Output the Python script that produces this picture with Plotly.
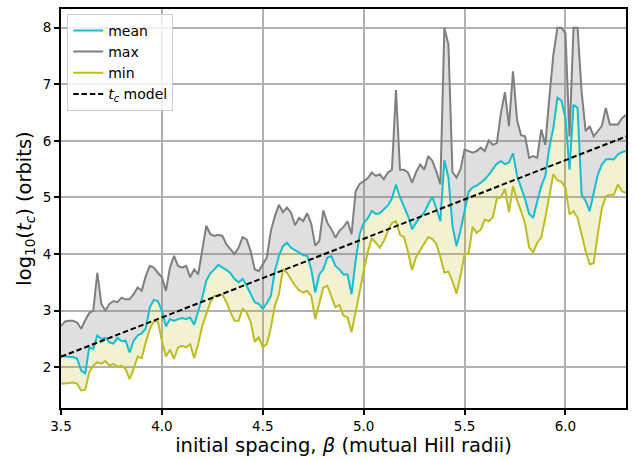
import numpy as np
import plotly.graph_objects as go

# initial spacing grid (mutual Hill radii)
beta = np.round(np.linspace(3.5, 6.3, 141), 2)

# log10 of instability time (orbits) per spacing
tc_mean = [
    2.21, 2.19, 2.18, 2.18, 2.15, 1.94, 1.89, 2.35, 2.32, 2.56,
    2.50, 2.52, 2.44, 2.42, 2.52, 2.46, 2.47, 2.26, 2.47, 2.56,
    2.60, 2.68, 3.06, 3.19, 3.17, 3.00, 2.72, 2.85, 2.82, 2.85,
    2.87, 2.85, 2.88, 2.75, 3.00, 3.23, 3.53, 3.66, 3.73, 3.81,
    3.76, 3.72, 3.66, 3.56, 3.50, 3.56, 3.44, 3.30, 3.15, 3.12,
    3.03, 3.13, 3.26, 3.70, 3.97, 4.14, 4.20, 4.11, 4.07, 4.03,
    3.98, 3.97, 3.73, 3.32, 3.64, 3.73, 3.94, 3.96, 3.79, 3.73,
    3.64, 3.64, 3.29, 3.88, 4.35, 4.55, 4.63, 4.76, 4.71, 4.72,
    4.79, 4.86, 4.98, 5.23, 5.00, 4.85, 4.67, 4.44, 4.56, 4.65,
    4.73, 4.88, 5.01, 4.80, 4.58, 5.66, 5.35, 4.50, 4.14, 4.42,
    4.76, 5.10, 5.18, 5.21, 5.26, 5.32, 5.40, 5.50, 5.60, 5.64,
    5.59, 5.62, 5.78, 5.38, 5.18, 4.97, 4.71, 4.64, 4.93, 5.20,
    5.38, 5.88, 6.23, 6.76, 6.71, 6.40, 5.49, 6.64, 6.58, 5.05,
    4.94, 4.76, 5.08, 5.40, 5.58, 5.67, 5.68, 5.67, 5.76, 5.80,
    5.82,
]

tc_max = [
    2.73, 2.81, 2.82, 2.82, 2.79, 2.68, 2.83, 2.96, 3.00, 3.67,
    3.12, 3.00, 3.12, 3.17, 3.15, 3.23, 3.20, 3.20, 3.29, 3.41,
    3.35, 3.61, 3.79, 3.76, 3.67, 3.59, 3.35, 3.76, 3.97, 3.79,
    3.76, 3.79, 3.59, 3.73, 3.64, 4.11, 4.50, 4.35, 4.32, 4.34,
    4.32, 4.17, 4.08, 4.00, 4.11, 4.30, 4.26, 4.05, 3.73, 3.70,
    3.82, 3.94, 4.41, 4.67, 4.87, 4.74, 4.82, 4.73, 4.51, 4.64,
    4.58, 4.72, 4.54, 4.15, 4.23, 4.77, 4.55, 4.44, 4.29, 4.41,
    4.48, 4.58, 4.35, 5.11, 5.24, 5.29, 5.34, 5.44, 5.38, 5.41,
    5.32, 5.44, 5.49, 6.90, 5.49, 5.49, 5.44, 5.26, 5.45, 5.58,
    5.49, 5.73, 5.65, 5.46, 5.23, 8.00, 7.70, 5.45, 5.35, 5.50,
    5.85, 5.82, 5.79, 5.82, 5.88, 5.82, 6.01, 5.93, 5.96, 6.49,
    6.86, 6.26, 7.23, 6.37, 6.10, 6.08, 5.70, 5.73, 5.70, 6.20,
    5.93, 6.76, 7.52, 8.00, 8.00, 7.90, 6.08, 8.00, 8.00, 6.87,
    6.17, 6.26, 6.08, 6.17, 6.26, 6.58, 6.29, 6.29, 6.29, 6.40,
    6.46,
]

tc_min = [
    1.71, 1.71, 1.72, 1.73, 1.71, 1.59, 1.60, 1.91, 2.03, 2.09,
    2.06, 2.11, 2.03, 2.06, 2.01, 2.03, 1.97, 1.79, 1.97, 2.19,
    2.16, 2.44, 2.68, 2.81, 2.81, 2.47, 2.19, 2.31, 2.15, 2.35,
    2.38, 2.35, 2.41, 2.16, 2.41, 2.73, 2.94, 3.15, 3.26, 3.26,
    3.28, 3.15, 2.97, 2.82, 2.82, 3.03, 2.97, 2.80, 2.45, 2.53,
    2.35, 2.41, 2.70, 3.09, 3.29, 3.73, 3.67, 3.56, 3.44, 3.36,
    3.32, 3.35, 3.26, 2.85, 3.15, 3.41, 3.44, 3.23, 3.06, 3.10,
    2.91, 2.88, 2.62, 2.97, 3.35, 3.70, 4.03, 4.28, 4.20, 4.11,
    4.23, 4.41, 4.55, 4.58, 4.34, 4.30, 4.03, 3.72, 3.95, 4.06,
    4.18, 4.30, 4.27, 4.18, 3.95, 3.67, 3.69, 3.52, 3.30, 3.62,
    4.00, 4.01, 4.48, 4.37, 4.43, 4.61, 4.58, 4.65, 4.98, 5.00,
    5.15, 4.74, 5.20, 4.95, 4.76, 4.53, 4.12, 4.03, 4.20, 4.29,
    4.64, 5.02, 5.41, 5.30, 5.28, 5.17, 4.70, 4.76, 4.64, 4.35,
    4.05, 3.82, 3.84, 4.35, 4.80, 5.02, 5.05, 5.05, 5.23, 5.11,
    5.08,
]

# linear t_c model: log10(t_c) = slope * beta + intercept
model_slope = 1.39
model_intercept = -2.68
tc_model = model_slope * beta + model_intercept

C_MEAN = "#17becf"
C_MAX = "#7f7f7f"
C_MIN = "#bcbd22"
FONT = "DejaVu Sans"

fig = go.Figure()

# shaded bands: mean..max in gray, min..mean in olive
fig.add_trace(go.Scatter(x=beta, y=tc_max, mode="lines", line=dict(width=0),
                         showlegend=False, hoverinfo="skip"))
fig.add_trace(go.Scatter(x=beta, y=tc_mean, mode="lines", line=dict(width=0),
                         fill="tonexty", fillcolor="rgba(127,127,127,0.25)",
                         showlegend=False, hoverinfo="skip"))
fig.add_trace(go.Scatter(x=beta, y=tc_min, mode="lines", line=dict(width=0),
                         fill="tonexty", fillcolor="rgba(188,189,34,0.2)",
                         showlegend=False, hoverinfo="skip"))

fig.add_trace(go.Scatter(x=beta, y=tc_mean, mode="lines", name="mean",
                         line=dict(color=C_MEAN, width=2)))
fig.add_trace(go.Scatter(x=beta, y=tc_max, mode="lines", name="max",
                         line=dict(color=C_MAX, width=2)))
fig.add_trace(go.Scatter(x=beta, y=tc_min, mode="lines", name="min",
                         line=dict(color=C_MIN, width=2)))
fig.add_trace(go.Scatter(x=beta, y=tc_model, mode="lines",
                         name="<i>t<sub>c</sub></i> model",
                         line=dict(color="black", width=2, dash="5.5px,2.8px")))

axis_common = dict(
    showgrid=True, gridcolor="#b0b0b0", gridwidth=1.5,
    showline=True, linecolor="black", linewidth=2, mirror=True,
    ticks="outside", ticklen=5, tickwidth=1.5, tickcolor="black",
    zeroline=False, tickfont=dict(family=FONT, size=13.5, color="black"),
)

fig.update_layout(
    width=635, height=460,
    margin=dict(l=61, r=8, t=7, b=51),
    paper_bgcolor="white", plot_bgcolor="white",
    font=dict(family=FONT, color="black"),
    xaxis=dict(
        range=[3.5, 6.3],
        tickvals=[3.5, 4.0, 4.5, 5.0, 5.5, 6.0],
        ticktext=["3.5", "4.0", "4.5", "5.0", "5.5", "6.0"],
        title=dict(text="initial spacing, <i>β</i> (mutual Hill radii)",
                   font=dict(family=FONT, size=19.5, color="black"), standoff=5),
        **axis_common,
    ),
    yaxis=dict(
        range=[1.28, 8.33],
        tickvals=[2, 3, 4, 5, 6, 7, 8],
        ticktext=["2", "3", "4", "5", "6", "7", "8"],
        title=dict(text="log<sub>10</sub>(<i>t<sub>c</sub></i>) (orbits)",
                   font=dict(family=FONT, size=19.5, color="black"), standoff=6),
        **axis_common,
    ),
    legend=dict(
        x=0.011, y=0.988, xanchor="left", yanchor="top",
        traceorder="normal",
        bgcolor="rgba(255,255,255,0.8)", bordercolor="#cccccc", borderwidth=1,
        font=dict(family=FONT, size=14, color="black"),
        tracegroupgap=0, itemwidth=30,
    ),
)

fig.write_html("out.html")
